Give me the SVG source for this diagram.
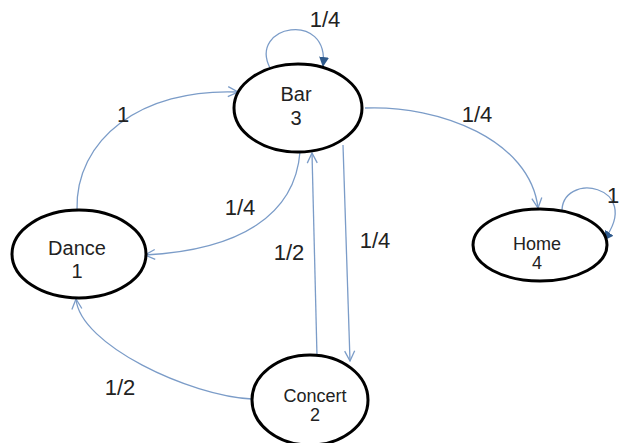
<svg xmlns="http://www.w3.org/2000/svg" width="619" height="443" viewBox="0 0 619 443">
<style>
.node{fill:#fff;stroke:#000;stroke-width:3}
.nt{font-family:"Liberation Sans",Arial,sans-serif;font-size:20px;fill:#222;text-anchor:middle}
.el{font-family:"Liberation Sans",Arial,sans-serif;font-size:22px;fill:#222;text-anchor:middle}
.c{fill:none;stroke:#7b9cc8;stroke-width:1.3}
.open{marker-end:url(#open)}
.filled{marker-end:url(#filled)}
</style>
<defs>
<marker id="open" viewBox="0 0 12 12" refX="11" refY="6" markerWidth="12" markerHeight="12" markerUnits="userSpaceOnUse" orient="auto">
<path d="M1,1 L11,6 L1,11" fill="none" stroke="#7b9cc8" stroke-width="1.3"/>
</marker>
<marker id="filled" viewBox="0 0 10 10" refX="9" refY="5" markerWidth="10" markerHeight="10" markerUnits="userSpaceOnUse" orient="auto">
<path d="M0,0 L10,5 L0,10 z" fill="#2f5a8c"/>
</marker>
</defs>
<rect width="619" height="443" fill="#fff"/>
<g id="connectors">
<path class="c open" d="M77,210 C75,140 140,88 238,92"/>
<path class="c open" d="M300,152 C295,215 240,250 145,255"/>
<path class="c open" d="M317,356 L312,153"/>
<path class="c open" d="M343,145 L350,361"/>
<path class="c open" d="M252,399 C190,396 80,345 76,299"/>
<path class="c open" d="M365,108 C440,105 530,140 538,208"/>
<path class="c filled" d="M270,68 C248,25 330,10 323,66"/>
<path class="c filled" d="M562,213 C560,170 645,185 604,240"/>
<text class="el" x="123" y="122">1</text>
<text class="el" x="240" y="215">1/4</text>
<text class="el" x="289" y="260">1/2</text>
<text class="el" x="375" y="248">1/4</text>
<text class="el" x="477" y="122">1/4</text>
<text class="el" x="325" y="27">1/4</text>
<text class="el" x="120" y="395">1/2</text>
<text class="el" x="613" y="203" text-anchor="start">1</text>
</g>
<g id="bar">
<ellipse class="node" cx="298" cy="108" rx="64" ry="44"/>
<text class="nt" x="296" y="101">Bar</text>
<text class="nt" x="296" y="125">3</text>
</g>
<g id="dance">
<ellipse class="node" cx="79" cy="254" rx="67" ry="44"/>
<text class="nt" x="77" y="255">Dance</text>
<text class="nt" x="77" y="278">1</text>
</g>
<g id="home">
<ellipse class="node" cx="540" cy="245" rx="67" ry="36"/>
<text class="nt" x="537" y="250" style="font-size:18px">Home</text>
<text class="nt" x="537" y="269" style="font-size:18px">4</text>
</g>
<g id="concert">
<ellipse class="node" cx="310" cy="400" rx="58" ry="45"/>
<text class="nt" x="315" y="402" style="font-size:18px">Concert</text>
<text class="nt" x="315" y="421" style="font-size:18px">2</text>
</g>
</svg>
